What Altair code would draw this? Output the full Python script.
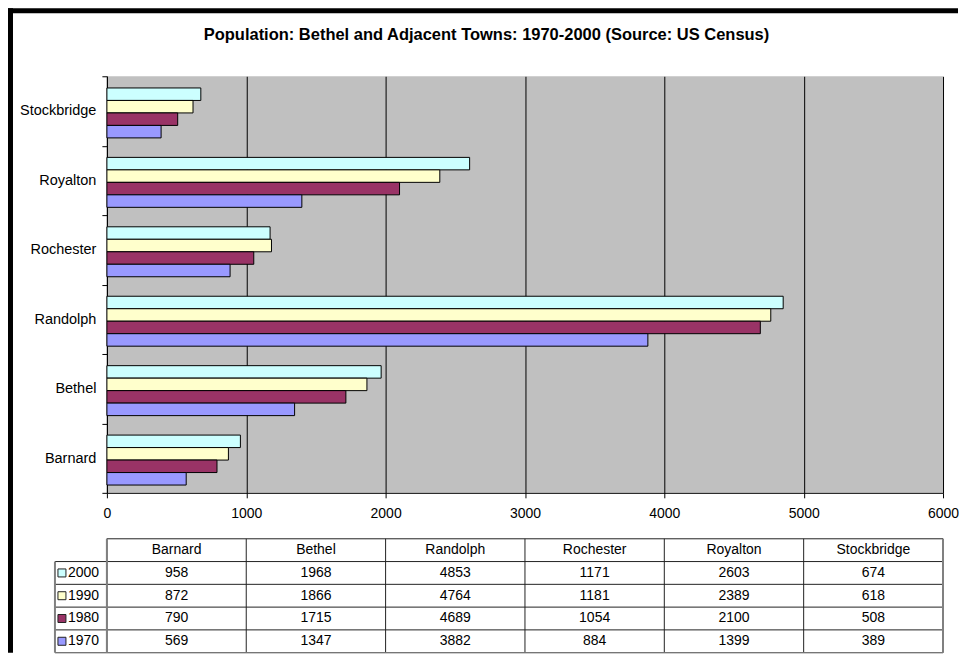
import altair as alt
import pandas as pd

# ---------------- data ----------------
towns = ["Barnard", "Bethel", "Randolph", "Rochester", "Royalton", "Stockbridge"]
years = ["2000", "1990", "1980", "1970"]
pop_2000 = [958, 1968, 4853, 1171, 2603, 674]
pop_1990 = [872, 1866, 4764, 1181, 2389, 618]
pop_1980 = [790, 1715, 4689, 1054, 2100, 508]
pop_1970 = [569, 1347, 3882, 884, 1399, 389]
year_colors = ["#CCFFFF", "#FFFFCC", "#993366", "#9999FF"]
x_ticks = [0, 1000, 2000, 3000, 4000, 5000, 6000]
title_text = "Population: Bethel and Adjacent Towns: 1970-2000 (Source: US Census)"

series = {"2000": pop_2000, "1990": pop_1990, "1980": pop_1980, "1970": pop_1970}
rows = []
for r, yr in enumerate(years):
    for i, t in enumerate(towns):
        rows.append({"town": t, "year": yr, "pop": series[yr][i],
                     "col": i * 1000 + 500, "row": r + 1.5})
df = pd.DataFrame(rows)

header = pd.DataFrame({"town": towns, "col": [i * 1000 + 500 for i in range(len(towns))], "row": 0.5})
legend_rows = pd.DataFrame({"year": years, "row": [r + 1.5 for r in range(len(years))]})
col_lines = pd.DataFrame({"x": x_ticks})
row_lines = pd.DataFrame({"y": list(range(len(years) + 2))})
one = pd.DataFrame({"a": [0]})

FONT = "Liberation Sans"
X0, Y0 = 107, 76          # page position of the plot origin (for the frame only)
W, H = 837, 417
TH = 114
SP = 46
LEG = 55 - X0             # left edge of the legend column, relative to the plot origin

color_scale = alt.Scale(domain=years, range=year_colors)

# ---------------- bar chart ----------------
bars = alt.Chart(df).mark_bar(stroke="black", strokeWidth=1).encode(
    x=alt.X("pop:Q",
            scale=alt.Scale(domain=[0, 6000], nice=False),
            axis=alt.Axis(values=x_ticks, grid=True, gridColor="black", gridWidth=1,
                          gridOpacity=1, domainColor="black", tickColor="black",
                          tickSize=5, labelPadding=9, labelFontSize=14, labelColor="black",
                          labelFont=FONT, labelFlush=False, labelOverlap=False,
                          format="d", title=None)),
    y=alt.Y("town:N", sort=towns[::-1],
            scale=alt.Scale(paddingInner=0, paddingOuter=0),
            axis=alt.Axis(tickBand="extent", domainColor="black", tickColor="black",
                          tickSize=5, labelPadding=6, labelFontSize=14.5, labelColor="black",
                          labelFont=FONT, title=None, grid=False)),
    yOffset=alt.YOffset("year:N", sort=years,
                        scale=alt.Scale(paddingInner=0, paddingOuter=0.78, align=0.6)),
    color=alt.Color("year:N", scale=color_scale, legend=None),
)

title_mark = alt.Chart(one).mark_text(
    text=title_text, font=FONT, fontSize=16.5, fontWeight="bold", color="black",
    align="center", baseline="middle"
).encode(x=alt.value(487 - X0), y=alt.value(35 - Y0))

# black frame (left and top edges), drawn as filled rects so bounds are exact
frame_left = alt.Chart(one).mark_rect(color="black", strokeWidth=0).encode(
    x=alt.value(8 - X0), x2=alt.value(13 - X0),
    y=alt.value(8 - Y0), y2=alt.value(H + SP + TH))
frame_top = alt.Chart(one).mark_rect(color="black", strokeWidth=0).encode(
    x=alt.value(8 - X0), x2=alt.value(959 - X0),
    y=alt.value(8 - Y0), y2=alt.value(13 - Y0))

top = alt.layer(bars, title_mark, frame_left, frame_top).properties(
    width=W, height=H, view=alt.ViewBackground(fill="#C0C0C0", stroke=None))

# ---------------- data table ----------------
xs = alt.Scale(domain=[0, 6000], nice=False)
ys = alt.Scale(domain=[0, len(years) + 1], reverse=True, nice=False)
ROW_H = TH / (len(years) + 1)

inner_v = alt.Chart(col_lines).mark_rule(color="#222222", strokeWidth=1).encode(
    x=alt.X("x:Q", scale=xs, axis=None),
    y=alt.value(0), y2=alt.value(TH))
inner_h = alt.Chart(row_lines).mark_rule(color="#222222", strokeWidth=1).encode(
    y=alt.Y("y:Q", scale=ys, axis=None),
    x=alt.value(0), x2=alt.value(W))
legend_h = alt.Chart(row_lines[row_lines["y"] >= 1]).mark_rule(color="#222222", strokeWidth=1).encode(
    y=alt.Y("y:Q", scale=ys, axis=None),
    x=alt.value(LEG), x2=alt.value(0))
legend_v = alt.Chart(one).mark_rule(color="#808080", strokeWidth=2).encode(
    x=alt.value(LEG), y=alt.value(ROW_H), y2=alt.value(TH))
outer_right = alt.Chart(one).mark_rule(color="#808080", strokeWidth=2).encode(
    x=alt.value(W), y=alt.value(0), y2=alt.value(TH))
outer_bottom = alt.Chart(one).mark_rule(color="#808080", strokeWidth=1).encode(
    x=alt.value(LEG), x2=alt.value(W), y=alt.value(TH))
outer_left = alt.Chart(one).mark_rule(color="#808080", strokeWidth=2).encode(
    x=alt.value(0), y=alt.value(0), y2=alt.value(TH))

head_text = alt.Chart(header).mark_text(font=FONT, fontSize=14, color="black",
                                        baseline="middle").encode(
    x=alt.X("col:Q", scale=xs, axis=None),
    y=alt.Y("row:Q", scale=ys, axis=None),
    text="town:N")
val_text = alt.Chart(df).mark_text(font=FONT, fontSize=14, color="black",
                                   baseline="middle").encode(
    x=alt.X("col:Q", scale=xs, axis=None),
    y=alt.Y("row:Q", scale=ys, axis=None),
    text="pop:Q")
swatch = alt.Chart(legend_rows).mark_point(shape="square", filled=True, size=64,
                                           stroke="#222222", strokeWidth=1, opacity=1).encode(
    x=alt.value(LEG + 7),
    y=alt.Y("row:Q", scale=ys, axis=None),
    fill=alt.Fill("year:N", scale=color_scale, legend=None))
leg_text = alt.Chart(legend_rows).mark_text(font=FONT, fontSize=14, color="black",
                                            align="left", baseline="middle").encode(
    x=alt.value(LEG + 13),
    y=alt.Y("row:Q", scale=ys, axis=None),
    text="year:N")

table = alt.layer(inner_v, inner_h, legend_h, legend_v, outer_right, outer_bottom,
                  outer_left, head_text, val_text, swatch, leg_text).properties(
    width=W, height=TH, view=alt.ViewBackground(stroke=None))

chart = alt.vconcat(top, table, spacing=SP, bounds="flush").properties(
    padding=0, background="white"
).configure(font=FONT)

chart.save("out.html", embed_options={"renderer": "svg", "actions": False})
